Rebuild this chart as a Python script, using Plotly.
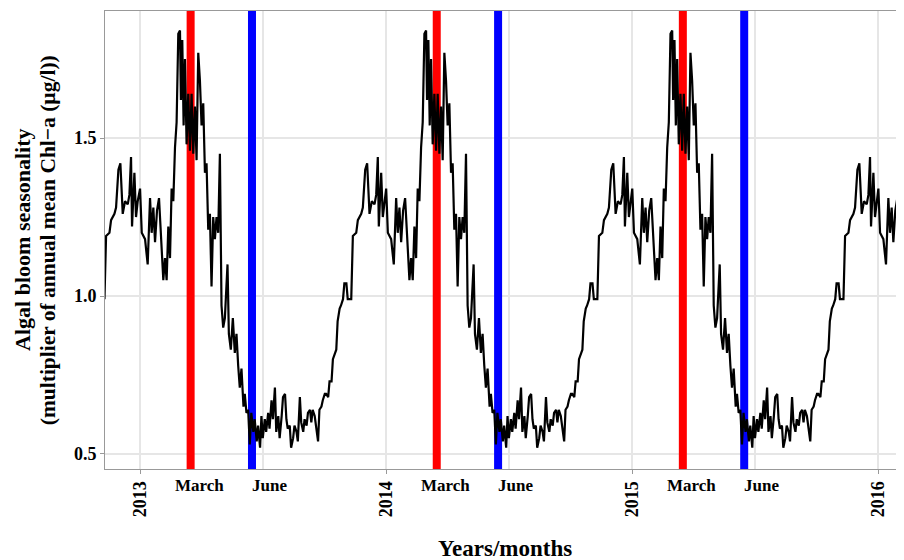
import datetime as dt
import plotly.graph_objects as go

# One seasonal cycle (day of year -> multiplier of annual mean Chl-a), repeated every year
cycle_doy = [1, 3.5, 8.4, 12.3, 15.8, 18.2, 20.7, 23.2, 26.1, 29.1, 32.1, 35.5, 38, 40.4, 42.9, 45.4,
             47.8, 50.3, 52.8, 55.2, 57.7, 60.2, 61.6, 63.6, 65.6, 67.6, 70, 72.5, 75, 77.4, 79.9,
             82.4, 84.8, 87.3, 89.8, 92.2, 94.7, 97.2, 99.6, 102.1, 104.6, 107, 109.5, 112, 114.4,
             116.9, 119.4, 121.8, 124.3, 126.8, 130.7, 132.7, 135.6, 138.6, 141.5, 144, 146.5,
             148.9, 151.4, 154.4, 156.3, 158.8, 161.3, 163.7,
             166, 169, 171, 174, 176, 179, 181, 183, 186, 188, 191, 193, 196, 198, 201, 203, 206,
             208, 211, 213, 216, 218, 220, 223, 225, 228, 230, 233, 235, 238, 240, 243, 245, 248,
             250, 253, 255, 257, 260, 262, 265, 267, 270, 272, 275, 277, 280, 282, 285, 287, 290,
             292, 294, 297, 299, 302, 304, 307, 309,
             314.2, 316.6, 321.6, 324, 329, 331.4, 334.9, 337.8, 341.3, 344.7, 348.7, 351.2,
             353.6, 355.1, 358.6, 361, 363.5]
cycle_val = [1.34, 1.20, 1.18, 1.10, 1.31, 1.20, 1.28, 1.17, 1.27, 1.31, 1.20, 1.05, 1.12, 1.05,
             1.22, 1.12, 1.34, 1.30, 1.47, 1.55, 1.83, 1.84, 1.62, 1.81, 1.54, 1.75, 1.48, 1.64,
             1.46, 1.64, 1.45, 1.60, 1.43, 1.77, 1.68, 1.54, 1.61, 1.39, 1.42, 1.21, 1.26, 1.03,
             1.25, 1.18, 1.25, 1.20, 1.45, 0.97, 0.90, 0.93, 1.10, 0.88, 0.83, 0.93, 0.82, 0.88,
             0.78, 0.71, 0.77, 0.65, 0.69, 0.63, 0.64, 0.53,
             0.63, 0.57, 0.61, 0.54, 0.59, 0.52, 0.62, 0.55, 0.61, 0.57, 0.63, 0.58, 0.67, 0.61,
             0.71, 0.57, 0.62, 0.55, 0.62, 0.68, 0.69, 0.61, 0.58, 0.59, 0.52, 0.55, 0.59, 0.57,
             0.54, 0.68, 0.60, 0.57, 0.61, 0.59, 0.63, 0.64, 0.60, 0.64, 0.62, 0.59, 0.54, 0.64,
             0.65, 0.67, 0.69, 0.69, 0.68, 0.73, 0.73, 0.80, 0.82, 0.83, 0.92, 0.96, 0.97, 0.99,
             1.04, 1.04, 0.99,
             0.99, 1.19, 1.20, 1.24, 1.26, 1.28, 1.40, 1.42, 1.26, 1.30, 1.29, 1.32, 1.44, 1.22,
             1.39, 1.25, 1.30]

years = [2012, 2013, 2014, 2015, 2016]
start_date = dt.datetime(2012, 11, 10)
end_date = dt.datetime(2016, 2, 8)
series_start = dt.datetime(2012, 11, 9)
y_range = [0.4525, 1.902]

year_ticks = ["2013-01-01", "2014-01-01", "2015-01-01", "2016-01-01"]
year_labels = ["2013", "2014", "2015", "2016"]
mid_year_grid = ["2013-07-02", "2014-07-02", "2015-07-02"]
red_dates = ["2013-03-17", "2014-03-17", "2015-03-17"]
blue_dates = ["2013-06-16", "2014-06-16", "2015-06-16"]
march_label_dates = ["2013-03-30", "2014-03-30", "2015-03-30"]
june_label_dates = ["2013-07-12", "2014-07-12", "2015-07-12"]

xs, ys = [], []
for yr in years:
    base = dt.datetime(yr, 1, 1)
    for d, v in zip(cycle_doy, cycle_val):
        t = base + dt.timedelta(days=d - 1)
        if series_start <= t <= end_date + dt.timedelta(days=5):
            xs.append(t)
            ys.append(v)

FONT = "Liberation Serif, Times New Roman, serif"

fig = go.Figure()


def vbars(dates, color):
    bx, by = [], []
    for d in dates:
        bx += [d, d, None]
        by += [y_range[0] - 1, y_range[1] + 1, None]
    fig.add_trace(go.Scatter(x=bx, y=by, mode="lines", line=dict(color=color, width=8),
                             showlegend=False, hoverinfo="skip", connectgaps=False))


vbars(red_dates, "#ff0000")
vbars(blue_dates, "#0000ff")

fig.add_trace(go.Scatter(x=xs, y=ys, mode="lines", line=dict(color="black", width=2.2),
                         showlegend=False, hoverinfo="skip"))

annotations = []
for d in march_label_dates:
    annotations.append(dict(x=d, y=-0.035, xref="x", yref="paper", text="March", showarrow=False,
                            xanchor="center", yanchor="middle",
                            font=dict(family=FONT, size=17, color="black", weight="bold")))
for d in june_label_dates:
    annotations.append(dict(x=d, y=-0.035, xref="x", yref="paper", text="June", showarrow=False,
                            xanchor="center", yanchor="middle",
                            font=dict(family=FONT, size=17, color="black", weight="bold")))
annotations.append(dict(x=0.5, y=-0.1725, xref="paper", yref="paper", text="Years/months",
                        showarrow=False, xanchor="center", yanchor="middle",
                        font=dict(family=FONT, size=23, color="black", weight="bold")))
annotations.append(dict(x=-0.104, y=0.5, xref="paper", yref="paper", text="Algal bloom seasonality",
                        textangle=-90, showarrow=False, xanchor="center", yanchor="middle",
                        font=dict(family=FONT, size=22, color="black", weight="bold")))
annotations.append(dict(x=-0.071, y=0.5, xref="paper", yref="paper",
                        text="(multiplier of annual mean Chl\u2212a (\u00b5g/l))",
                        textangle=-90, showarrow=False, xanchor="center", yanchor="middle",
                        font=dict(family=FONT, size=21.5, color="black", weight="bold")))

# the page body has an 8 px default margin, so the figure is 8 px smaller and margins reduced
fig.update_layout(
    width=896, height=552,
    margin=dict(l=97, r=0, t=3, b=91, autoexpand=False),
    paper_bgcolor="white", plot_bgcolor="white",
    annotations=annotations,
    xaxis=dict(type="date", range=[start_date, end_date],
               tickvals=year_ticks, ticktext=year_labels, tickangle=-90,
               ticks="outside", ticklen=4, tickcolor="#999999",
               showline=True, linecolor="#999999", linewidth=1, mirror=True,
               showgrid=True, gridcolor="#e6e6e6", gridwidth=1.5, zeroline=False,
               minor=dict(tickvals=mid_year_grid, showgrid=True, gridcolor="#e6e6e6",
                          gridwidth=1.5, ticks=""),
               tickfont=dict(family=FONT, size=18, color="black", weight="bold")),
    yaxis=dict(range=y_range, tickvals=[0.5, 1.0, 1.5], ticktext=["0.5", "1.0", "1.5"],
               ticks="outside", ticklen=4, tickcolor="#999999",
               showline=True, linecolor="#999999", linewidth=1, mirror=True,
               showgrid=True, gridcolor="#e6e6e6", gridwidth=1.5, zeroline=False,
               tickfont=dict(family=FONT, size=18, color="black", weight="bold")),
)

fig.write_html("out.html")
